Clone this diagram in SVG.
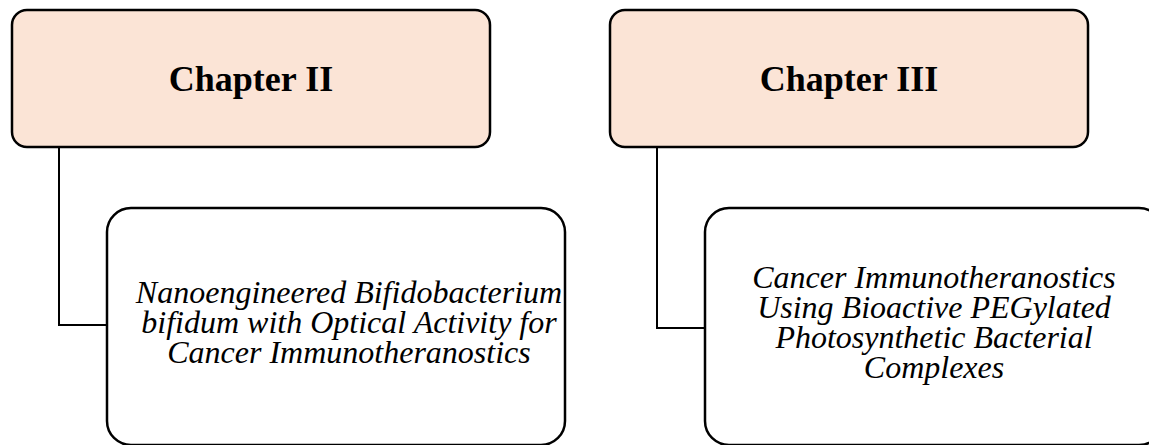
<svg xmlns="http://www.w3.org/2000/svg" width="1149" height="445" viewBox="0 0 1149 445">
<style>
.top{fill:#FBE4D6;stroke:#000;stroke-width:2.5}
.sub{fill:#FFFFFF;stroke:#000;stroke-width:2.5}
.conn{fill:none;stroke:#000;stroke-width:2}
.h{font-family:"Liberation Serif","Times New Roman",serif;font-weight:bold;font-size:36px;fill:#000;text-anchor:middle}
.t{font-family:"Liberation Serif","Times New Roman",serif;font-style:italic;font-size:32px;fill:#000;text-anchor:middle}
</style>
<rect width="1149" height="445" fill="#FFFFFF"/>
<g id="connectors">
<path class="conn" d="M59 147 V325 H107"/>
<path class="conn" d="M657 147 V328 H705"/>
</g>
<g id="chapter2">
<rect class="top" x="12" y="10" width="478" height="137" rx="15" ry="15"/>
<text class="h" x="251" y="91">Chapter II</text>
</g>
<g id="chapter3">
<rect class="top" x="610" y="10" width="478" height="137" rx="15" ry="15"/>
<text class="h" x="849" y="91">Chapter III</text>
</g>
<g id="topic2">
<rect class="sub" x="107" y="208" width="458" height="237" rx="24" ry="24"/>
<text class="t" x="349" y="303">Nanoengineered Bifidobacterium</text>
<text class="t" x="349" y="333">bifidum with Optical Activity for</text>
<text class="t" x="349" y="363">Cancer Immunotheranostics</text>
</g>
<g id="topic3">
<rect class="sub" x="705" y="208" width="458" height="237" rx="24" ry="24"/>
<text class="t" x="934" y="288">Cancer Immunotheranostics</text>
<text class="t" x="934" y="318">Using Bioactive PEGylated</text>
<text class="t" x="934" y="348">Photosynthetic Bacterial</text>
<text class="t" x="934" y="378">Complexes</text>
</g>
</svg>
